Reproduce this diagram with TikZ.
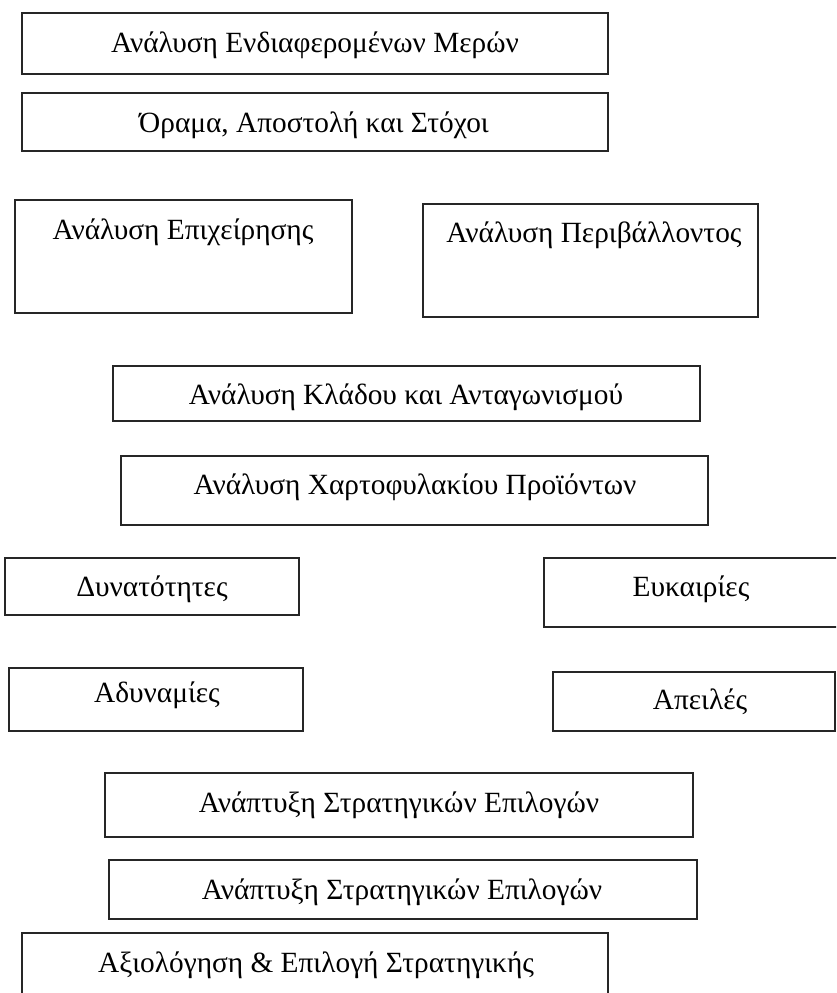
\documentclass[tikz,border=0pt]{standalone}
\usepackage{fontspec}
\setmainfont{Liberation Serif}
\tikzset{
  box/.style={draw=black!85, line width=1.5pt, inner sep=0pt, fill=white},
  lbl/.style={inner sep=0pt, font=\fontsize{22pt}{26pt}\selectfont, text height=0.72em, text depth=0.22em},
}
% name, x1, y1, x2, y2
\newcommand\mkbox[5]{%
  \node[box, minimum width={(#4-#2)*0.75pt}, minimum height={(#5-#3)*0.75pt}] (#1) at ({(#2+#4)/2},{(#3+#5)/2}) {};}
\begin{document}
\begin{tikzpicture}[x=0.75pt,y=-0.75pt]
\useasboundingbox (0,0) rectangle (836,993);
\begin{scope}
\clip (0,0) rectangle (836,993);
\mkbox{b1}{22}{13}{608}{74}
\mkbox{b2}{22}{93}{608}{151}
\mkbox{b3}{15}{200}{352}{313}
\mkbox{b4}{423}{204}{758}{317}
\mkbox{b5}{113}{366}{700}{421}
\mkbox{b6}{121}{456}{708}{525}
\mkbox{b7}{5}{558}{299}{615}
\mkbox{b8}{544}{558}{840}{627}
\mkbox{b9}{9}{668}{303}{731}
\mkbox{b10}{553}{672}{835}{731}
\mkbox{b11}{105}{773}{693}{837}
\mkbox{b12}{109}{860}{697}{919}
\mkbox{b13}{22}{933}{608}{1010}
\end{scope}
\node[lbl] (t1) at (315,49) {Ανάλυση Ενδιαφερομένων Μερών};
\node[lbl] (t2) at (314,129) {Όραμα, Αποστολή και Στόχοι};
\node[lbl] (t3) at (183,236) {Ανάλυση Επιχείρησης};
\node[lbl] (t4) at (594,239) {Ανάλυση Περιβάλλοντος};
\node[lbl] (t5) at (406,401) {Ανάλυση Κλάδου και Ανταγωνισμού};
\node[lbl] (t6) at (415,491) {Ανάλυση Χαρτοφυλακίου Προϊόντων};
\node[lbl] (t7) at (152,593) {Δυνατότητες};
\node[lbl] (t8) at (691,593) {Ευκαιρίες};
\node[lbl] (t9) at (157,699) {Αδυναμίες};
\node[lbl] (t10) at (700,706) {Απειλές};
\node[lbl] (t11) at (399,809) {Ανάπτυξη Στρατηγικών Επιλογών};
\node[lbl] (t12) at (402,896) {Ανάπτυξη Στρατηγικών Επιλογών};
\node[lbl] (t13) at (316,969) {Αξιολόγηση \& Επιλογή Στρατηγικής};
\end{tikzpicture}
\end{document}
